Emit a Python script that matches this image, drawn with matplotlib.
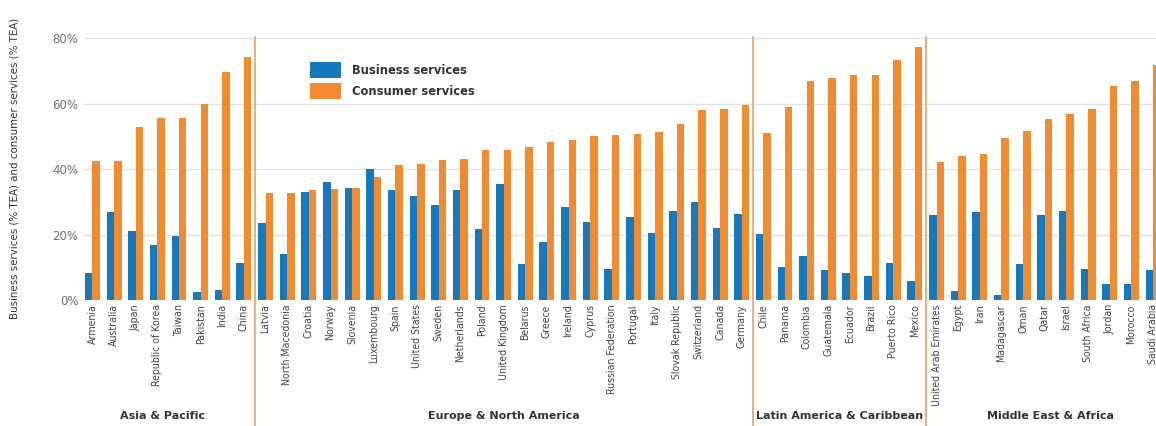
import numpy as np
import matplotlib
matplotlib.use("Agg")
import matplotlib.pyplot as plt
import matplotlib.transforms as mtransforms

# Dati (% TEA)
regioni = ["Asia & Pacific", "Europe & North America",
           "Latin America & Caribbean", "Middle East & Africa"]

paesi_asia = ["Armenia", "Australia", "Japan", "Republic of Korea", "Taiwan",
              "Pakistan", "India", "China"]
paesi_europa = ["Latvia", "North Macedonia", "Croatia", "Norway", "Slovenia",
                "Luxembourg", "Spain", "United States", "Sweden", "Netherlands",
                "Poland", "United Kingdom", "Belarus", "Greece", "Ireland",
                "Cyprus", "Russian Federation", "Portugal", "Italy",
                "Slovak Republic", "Switzerland", "Canada", "Germany"]
paesi_latam = ["Chile", "Panama", "Colombia", "Guatemala", "Ecuador", "Brazil",
               "Puerto Rico", "Mexico"]
paesi_mea = ["United Arab Emirates", "Egypt", "Iran", "Madagascar", "Oman",
             "Qatar", "Israel", "South Africa", "Jordan", "Morocco",
             "Saudi Arabia"]

business_asia = [8.2, 26.8, 21.1, 16.8, 19.4, 2.4, 3.1, 11.2]
consumer_asia = [42.5, 42.5, 53.0, 55.5, 55.7, 59.9, 69.8, 74.1]

business_europa = [23.6, 14.1, 32.9, 35.9, 34.1, 40.0, 33.6, 31.8, 29.1, 33.6,
                   21.6, 35.4, 10.9, 17.8, 28.3, 23.9, 9.6, 25.3, 20.6, 27.3,
                   29.8, 22.0, 26.2]
consumer_europa = [32.6, 32.6, 33.6, 33.9, 34.3, 37.5, 41.1, 41.6, 42.7, 43.2,
                   45.9, 45.9, 46.6, 48.2, 48.9, 50.1, 50.4, 50.7, 51.3, 53.7,
                   57.9, 58.5, 59.7]

business_latam = [20.2, 10.2, 13.5, 9.2, 8.2, 7.3, 11.2, 5.9]
consumer_latam = [51.0, 58.9, 67.0, 67.7, 68.6, 68.6, 73.2, 77.2]

business_mea = [26.0, 2.8, 27.0, 1.5, 10.9, 26.0, 27.3, 9.5, 5.0, 5.0, 9.2]
consumer_mea = [42.1, 44.1, 44.5, 49.4, 51.5, 55.4, 56.8, 58.5, 65.5, 66.9, 71.8]

gruppi_paesi = [paesi_asia, paesi_europa, paesi_latam, paesi_mea]
paesi = paesi_asia + paesi_europa + paesi_latam + paesi_mea
business = business_asia + business_europa + business_latam + business_mea
consumer = consumer_asia + consumer_europa + consumer_latam + consumer_mea

BLU = "#1479bf"
ARANCIO = "#f28a30"

W, H = 1156, 426
fig = plt.figure(figsize=(W / 100, H / 100), dpi=100)

# l'asse continua oltre il bordo destro (come nell'immagine originale, tagliata)
x_min, x_max = -0.39, 50.0
px_unit = (W - 84) / (49.14 - x_min)
ax_left = 84 / W
ax_width = (x_max - x_min) * px_unit / W
ax_bottom = (H - 300) / H
ax_height = 263.5 / H
ax = fig.add_axes([ax_left, ax_bottom, ax_width, ax_height])

x = np.arange(len(paesi))
w = 0.345
ax.bar(x - w / 2, business, width=w, color=BLU, label="Business services", zorder=3)
ax.bar(x + w / 2, consumer, width=w, color=ARANCIO, label="Consumer services", zorder=3)

ax.set_xlim(x_min, x_max)
ax.set_ylim(0, 80.5)
ax.set_yticks([0, 20, 40, 60, 80])
ax.set_yticklabels(["0%", "20%", "40%", "60%", "80%"], fontsize=8.5, color="#707070")
ax.yaxis.grid(True, color="#e2e2e2", linewidth=1, zorder=0)
ax.set_axisbelow(True)
for s in ax.spines.values():
    s.set_visible(False)
ax.tick_params(axis="both", length=0)
ax.tick_params(axis="y", pad=4)
ax.tick_params(axis="x", pad=3)

ax.set_xticks(x)
ax.set_xticklabels(paesi, rotation=90, fontsize=7.6, color="#444444",
                   fontstretch="condensed", va="top", ha="center")

ax.set_ylabel("Business services (% TEA) and consumer services (% TEA)",
              fontsize=8.2, fontstretch="condensed", color="#333333", labelpad=24)

# separatori e nomi delle regioni
trans = mtransforms.blended_transform_factory(ax.transData, ax.transAxes)
bordi = [-1.0]
fine = -0.5
for g in gruppi_paesi:
    fine += len(g)
    bordi.append(fine)
bordi[-1] = x_max
for b in bordi[1:-1]:
    ax.axvline(b, ymin=-0.48, ymax=1.0, color="#f0a060", linewidth=1.2,
               clip_on=False, zorder=4)
for i, nome in enumerate(regioni):
    centro = (bordi[i] + bordi[i + 1]) / 2
    ax.text(centro, -0.44, nome, transform=trans, ha="center", va="center",
            fontsize=8, fontweight="bold", color="#333333")

leg = ax.legend(loc="upper left", bbox_to_anchor=(305 / W, 1 - 57 / H),
                bbox_transform=fig.transFigure, frameon=True,
                handlelength=2.7, handleheight=1.75, labelspacing=0.45,
                handletextpad=0.9, borderpad=0.45, borderaxespad=0,
                prop={"weight": "bold", "size": 8.3})
leg.get_frame().set_facecolor("white")
leg.get_frame().set_edgecolor("none")
leg.get_frame().set_alpha(1)
for t in leg.get_texts():
    t.set_color("#333333")

fig.savefig("out.png", dpi=100)
